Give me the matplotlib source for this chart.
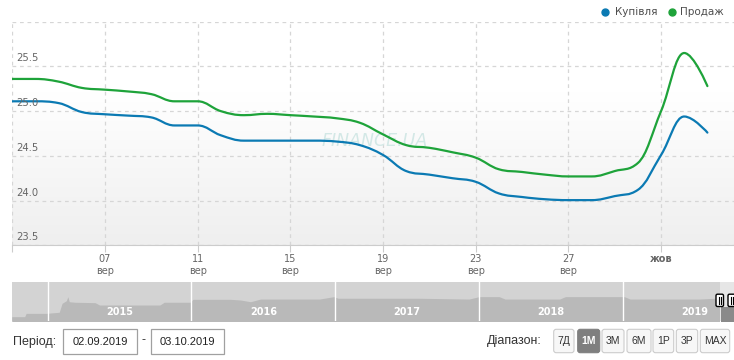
import numpy as np
import pandas as pd
import matplotlib
matplotlib.use("Agg")
import matplotlib.pyplot as plt
import matplotlib.dates as mdates
from matplotlib.path import Path
from matplotlib.patches import PathPatch, FancyBboxPatch, Rectangle
import matplotlib.transforms as mtransforms

# ---------------- data ----------------
dates = pd.date_range("2019-09-03", "2019-10-03", freq="D")
buy = [25.11, 25.11, 25.09, 24.99, 24.965, 24.95, 24.93, 24.84, 24.84, 24.73,
       24.67, 24.67, 24.67, 24.67, 24.66, 24.62, 24.51, 24.33, 24.29, 24.25,
       24.21, 24.08, 24.04, 24.015, 24.005, 24.005, 24.05, 24.12, 24.51, 24.94,
       24.76]
sell = [25.36, 25.36, 25.33, 25.26, 25.24, 25.22, 25.19, 25.11, 25.11, 25.00,
        24.955, 24.97, 24.955, 24.94, 24.92, 24.87, 24.74, 24.62, 24.59, 24.54,
        24.48, 24.35, 24.32, 24.29, 24.27, 24.27, 24.33, 24.42, 25.00, 25.65,
        25.28]
series_names = ["Купівля", "Продаж"]
y_ticks = [23.5, 24.0, 24.5, 25.0, 25.5, 26.0]
x_tick_dates = ["2019-09-03", "2019-09-07", "2019-09-11", "2019-09-15",
                "2019-09-19", "2019-09-23", "2019-09-27", "2019-10-01"]
x_tick_labels = ["", "07\nвер", "11\nвер", "15\nвер", "19\nвер", "23\nвер",
                 "27\nвер", "жов"]

# navigator (overview) series, x in fractional years
nav_x = [2014.75, 2014.84, 2014.85, 2014.99, 2015.08, 2015.10, 2015.13, 2015.14,
         2015.15, 2015.19, 2015.33, 2015.36, 2015.78, 2015.81, 2015.99, 2016.01,
         2016.27, 2016.34, 2016.41, 2016.48, 2016.89, 2016.99, 2017.02, 2017.58,
         2017.93, 2018.00, 2018.14, 2018.18, 2018.56, 2018.60, 2019.01, 2019.05,
         2019.53, 2019.64, 2019.672, 2019.68, 2019.77]
nav_y = [13.0, 13.0, 15.5, 15.5, 16.3, 23.0, 25.0, 28.0,
         24.2, 23.8, 23.5, 21.75, 21.75, 23.8, 23.8, 26.0,
         26.0, 25.5, 24.2, 26.2, 26.2, 28.0, 26.8, 26.8,
         26.2, 28.0, 28.0, 26.2, 26.2, 28.0, 28.0, 26.2,
         26.2, 26.8, 26.8, 20.5, 20.5]
nav_years = [2015, 2016, 2017, 2018, 2019]
range_buttons = ["7Д", "1М", "3М", "6М", "1Р", "3Р", "MAX"]
active_button = "1М"
period_from, period_to = "02.09.2019", "03.10.2019"

# ---------------- style ----------------
W, H = 734, 360
BLUE = "#0b7ab3"
GREEN = "#1ea33a"
fig = plt.figure(figsize=(W / 100, H / 100), dpi=100)


def px_axes(x0, y0, x1, y1, **kw):
    return fig.add_axes([x0 / W, 1 - y1 / H, (x1 - x0) / W, (y1 - y0) / H], **kw)


def spline_path(xs, ys):
    """Highcharts-like spline path through the data points."""
    n = len(xs)
    lc = [None] * n
    rc = [None] * n
    sm, den = 1.5, 2.5
    for i in range(n):
        x, y = xs[i], ys[i]
        if i == 0 or i == n - 1:
            lc[i] = (x, y)
            rc[i] = (x, y)
            continue
        lx, ly = xs[i - 1], ys[i - 1]
        nx, ny = xs[i + 1], ys[i + 1]
        lcx = (sm * x + lx) / den
        lcy = (sm * y + ly) / den
        rcx = (sm * x + nx) / den
        rcy = (sm * y + ny) / den
        if rcx != lcx:
            corr = ((rcy - lcy) * (rcx - x)) / (rcx - lcx) + y - rcy
            lcy += corr
            rcy += corr
        if lcy > ly and lcy > y:
            lcy = max(ly, y)
            rcy = 2 * y - lcy
        elif lcy < ly and lcy < y:
            lcy = min(ly, y)
            rcy = 2 * y - lcy
        if rcy > ny and rcy > y:
            rcy = max(ny, y)
            lcy = 2 * y - rcy
        elif rcy < ny and rcy < y:
            rcy = min(ny, y)
            lcy = 2 * y - rcy
        lc[i] = (lcx, lcy)
        rc[i] = (rcx, rcy)
    verts = [(xs[0], ys[0])]
    codes = [Path.MOVETO]
    for i in range(1, n):
        verts += [rc[i - 1], lc[i], (xs[i], ys[i])]
        codes += [Path.CURVE4] * 3
    return Path(verts, codes)


# ---------------- main chart ----------------
ax = px_axes(12.3, 21.7, 734, 245.3)
x0 = mdates.date2num(np.datetime64("2019-09-03"))
ax.set_xlim(x0, x0 + (734 - 12.3) / 23.17)
ax.set_ylim(y_ticks[0], y_ticks[-1])

# background gradient
grad = np.ones((200, 2, 3))
fr = np.linspace(1, 0, 200)  # top -> bottom
shade = np.clip((0.68 - fr) / 0.68, 0, 1)
val = 1.0 - shade * (1.0 - 0.937)
grad[:, :, :] = val[:, None, None]
ax.imshow(grad, extent=[0, 1, 0, 1], transform=ax.transAxes, aspect="auto",
          zorder=0, interpolation="bilinear")

xnum = mdates.date2num(dates.to_numpy())
for vals, col in [(buy, BLUE), (sell, GREEN)]:
    p = spline_path(list(xnum), list(vals))
    ax.add_patch(PathPatch(p, fill=False, edgecolor=col, lw=1.6,
                           capstyle="round", joinstyle="round", zorder=3))

ax.set_xticks(mdates.date2num(pd.to_datetime(x_tick_dates).to_numpy()))
ax.set_xticklabels(x_tick_labels, fontsize=7, color="#666666", linespacing=1.3)
for lab in ax.get_xticklabels():
    if lab.get_text() == "жов":
        lab.set_fontweight("bold")
ax.set_yticks(y_ticks)
ax.set_yticklabels([])
ax.tick_params(axis="y", length=0)
ax.tick_params(axis="x", length=5, color="#cccccc", pad=1)
ax.grid(True, color="#d6d6d6", linestyle=(0, (3, 3)), lw=0.9)
for s in ["top", "right", "left"]:
    ax.spines[s].set_visible(False)
ax.spines["bottom"].set_color("#cccccc")
ax.set_axisbelow(True)

btr = mtransforms.blended_transform_factory(ax.transAxes, ax.transData)
for v in y_ticks[:-1]:
    ax.annotate(f"{v:.1f}", xy=(0, v), xycoords=btr, xytext=(4, 3),
                textcoords="offset pixels", fontsize=7.2, color="#666666",
                ha="left", va="bottom", zorder=4)

ax.text(0.502, 0.465, "FINANCE.UA", transform=ax.transAxes, fontsize=12.5,
        fontstyle="italic", color="#d3e8e6", ha="center", va="center",
        zorder=2)

# ---------------- overlay (pixel coords) ----------------
ov = fig.add_axes([0, 0, 1, 1], zorder=10)
ov.set_xlim(0, W)
ov.set_ylim(H, 0)
ov.axis("off")
ov.patch.set_alpha(0)

# legend
legend_pos = [(605.3, 614.5), (672.0, 680.0)]
for name, col, (dx, tx) in zip(series_names, [BLUE, GREEN], legend_pos):
    ov.plot([dx], [11.7], "o", ms=5, color=col, mec=col)
    ov.text(tx, 12, name, fontsize=7.5, color="#4d4d4d", ha="left", va="center")

# ---------------- navigator ----------------
nav = px_axes(12, 281.7, 734, 320.7)
nav.set_xlim(2015 + (12 - 47.7) / 143.8, 2015 + (734 - 47.7) / 143.8)
nav.set_ylim(10, 10 + 39 / 1.336)
sel = 2015 + (720 - 47.7) / 143.8
nav.axvspan(nav.get_xlim()[0], sel, color="#d3d3d3", lw=0, zorder=0)
nav.axvspan(sel, nav.get_xlim()[1], color="#e6e6e6", lw=0, zorder=0)
nx = np.array(nav_x)
ny = np.array(nav_y)
nav.fill_between(nx, 0, ny, where=nx <= sel + 1e-9, color="#b9b9b9", lw=0,
                 zorder=1)
nav.fill_between(nx, 0, ny, where=nx >= sel - 1e-9, color="#8a8a8a", lw=0,
                 zorder=1)
for yr in nav_years:
    nav.axvline(yr, color="white", lw=1, zorder=2)
    nav.text(yr + 0.5, 0.23, str(yr), transform=nav.get_xaxis_transform(),
             color="white", fontsize=7, fontweight="bold", ha="center",
             va="center", zorder=3)
nav.set_xticks([])
nav.set_yticks([])
for s in nav.spines.values():
    s.set_visible(False)

# handles
for hx in [716, 728]:
    ov.add_patch(FancyBboxPatch((hx, 294.2), 7.5, 12.3,
                                boxstyle="round,pad=0,rounding_size=1.5",
                                fc="white", ec="black", lw=1, zorder=5))
    for lx in [hx + 2.8, hx + 4.8]:
        ov.plot([lx, lx], [297, 303.5], color="black", lw=0.8, zorder=6)

# ---------------- bottom controls ----------------
BOT_FONT = "Liberation Sans"
ov.text(12.5, 341.7, "Період:", fontsize=9, color="#333333", ha="left",
        va="center", family=BOT_FONT)
for (bx0, bx1), txt in zip([(63, 137), (151, 224)], [period_from, period_to]):
    ov.add_patch(Rectangle((bx0, 329), bx1 - bx0, 25, fc="white",
                           ec="#a0a0a0", lw=0.9))
    ov.text((bx0 + bx1) / 2, 341.7, txt, fontsize=8, color="#222222",
            ha="center", va="center", family=BOT_FONT)
ov.text(144, 340.5, "-", fontsize=9, color="#333333", ha="center",
        va="center", family=BOT_FONT)

ov.text(542, 341.2, "Діапазон:", fontsize=9, color="#333333", ha="right",
        va="center", family=BOT_FONT)
btn_x = [(553.7, 574.0), (577.7, 599.7), (602.0, 624.0), (627.0, 651.0),
         (653.0, 673.7), (676.3, 697.7), (700.3, 729.7)]
for (bx0, bx1), lab in zip(btn_x, range_buttons):
    act = lab == active_button
    ov.add_patch(FancyBboxPatch((bx0, 329.3), bx1 - bx0, 23.4,
                                boxstyle="round,pad=0,rounding_size=2.5",
                                fc="#7f7f7f" if act else "#f7f7f7",
                                ec="#7f7f7f" if act else "#cccccc", lw=0.8))
    ov.text((bx0 + bx1) / 2, 341.2, lab, fontsize=7.5,
            color="white" if act else "#333333",
            fontweight="bold" if act else "normal",
            ha="center", va="center", family=BOT_FONT)

fig.savefig("out.png", dpi=100)
